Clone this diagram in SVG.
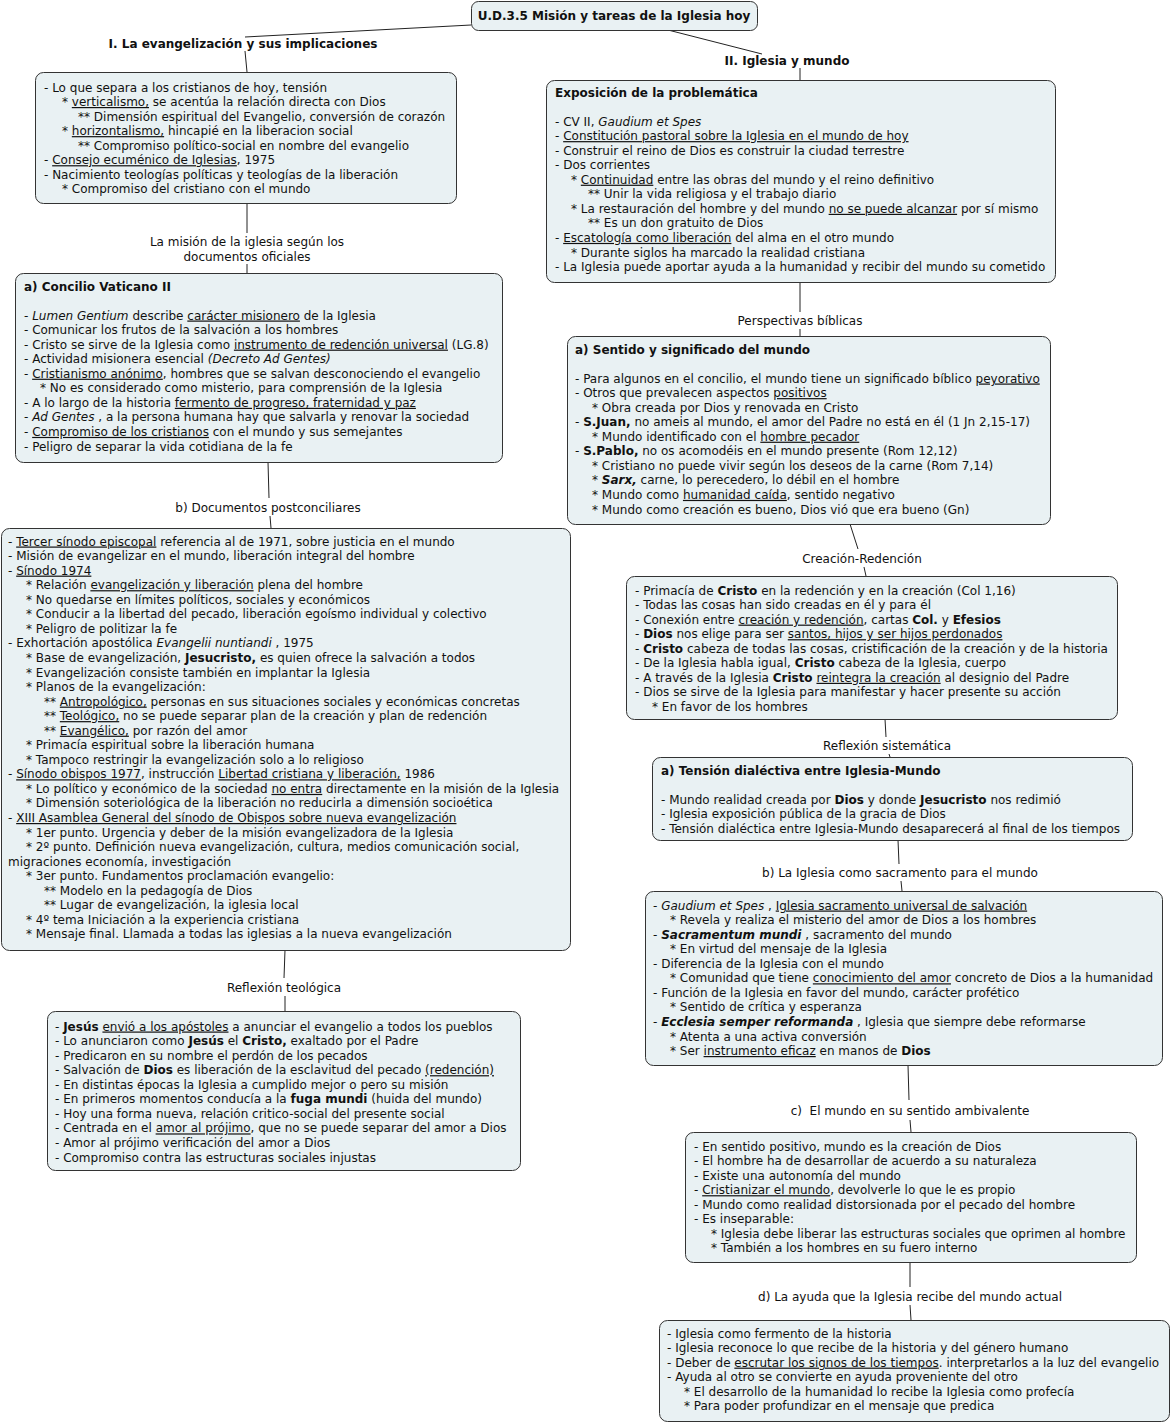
<svg xmlns="http://www.w3.org/2000/svg" width="1171" height="1423" viewBox="0 0 1171 1423">
<style>
text{font-family:"DejaVu Sans",Verdana,sans-serif;font-size:12px;fill:#111}
.b{font-weight:bold}
.i{font-style:italic}
.u{text-decoration:underline}
.c{text-anchor:middle}
.box{fill:#e9f1f3;stroke:#333;stroke-width:1}
#connectors line,#connectors polyline{stroke:#222;stroke-width:1;fill:none}
</style>
<rect width="1171" height="1423" fill="#fff"/>
<g id="connectors">
<line x1="471" y1="25" x2="245" y2="37"/>
<line x1="245" y1="51" x2="247" y2="72"/>
<line x1="668" y1="30" x2="762" y2="54"/>
<line x1="800" y1="68" x2="800" y2="80"/>
<line x1="247" y1="203" x2="247" y2="233"/>
<line x1="247" y1="264" x2="247" y2="273"/>
<line x1="268" y1="462" x2="269" y2="498"/>
<line x1="270" y1="516" x2="271" y2="528"/>
<line x1="285" y1="950" x2="284" y2="978"/>
<line x1="285" y1="996" x2="285" y2="1011"/>
<line x1="800" y1="282" x2="800" y2="312"/>
<line x1="800" y1="329" x2="800" y2="336"/>
<line x1="850" y1="524" x2="858" y2="549"/>
<line x1="864" y1="567" x2="866" y2="576"/>
<line x1="885" y1="719" x2="886" y2="737"/>
<line x1="889" y1="754" x2="890" y2="757"/>
<line x1="898" y1="840" x2="899" y2="864"/>
<line x1="901" y1="881" x2="902" y2="891"/>
<line x1="908" y1="1065" x2="909" y2="1100"/>
<line x1="910" y1="1120" x2="911" y2="1132"/>
<line x1="910" y1="1262" x2="910" y2="1287"/>
<line x1="910" y1="1305" x2="911" y2="1320"/>
</g>
<g id="labels">
<text class="b c" x="243" y="47.5">I. La evangelización y sus implicaciones</text>
<text class="b c" x="787" y="64.5">II. Iglesia y mundo</text>
<text class="c" x="247" y="245.5">La misión de la iglesia según los</text>
<text class="c" x="247" y="260.5">documentos oficiales</text>
<text class="c" x="268" y="511.5">b) Documentos postconciliares</text>
<text class="c" x="284" y="991.5">Reflexión teológica</text>
<text class="c" x="800" y="324.5">Perspectivas bíblicas</text>
<text class="c" x="862" y="562.5">Creación-Redención</text>
<text class="c" x="887" y="749.5">Reflexión sistemática</text>
<text class="c" x="900" y="876.5">b) La Iglesia como sacramento para el mundo</text>
<text class="c" x="910" y="1114.5" xml:space="preserve">c)  El mundo en su sentido ambivalente</text>
<text class="c" x="910" y="1300.5">d) La ayuda que la Iglesia recibe del mundo actual</text>
</g>
<g id="title">
<rect class="box" x="471.5" y="1.5" width="286" height="29" rx="7"/>
<text class="b c" x="614" y="20">U.D.3.5 Misión y tareas de la Iglesia hoy</text>
</g>
<g id="box1">
<rect class="box" x="35.5" y="72.5" width="421" height="131" rx="8"/>
<text x="44" y="91.5">- Lo que separa a los cristianos de hoy, tensión</text>
<text x="62" y="106">* <tspan class="u">verticalismo,</tspan> se acentúa la relación directa con Dios</text>
<text x="78" y="120.5">** Dimensión espiritual del Evangelio, conversión de corazón</text>
<text x="62" y="135.1">* <tspan class="u">horizontalismo,</tspan> hincapié en la liberacion social</text>
<text x="78" y="149.7">** Compromiso político-social en nombre del evangelio</text>
<text x="44" y="164.2">- <tspan class="u">Consejo ecuménico de Iglesias</tspan>, 1975</text>
<text x="44" y="178.8">- Nacimiento teologías políticas y teologías de la liberación</text>
<text x="62" y="193.3">* Compromiso del cristiano con el mundo</text>
</g>
<g id="box2">
<rect class="box" x="15.5" y="273.5" width="487" height="189" rx="8"/>
<text class="b" x="24" y="290.5">a) Concilio Vaticano II</text>
<text x="24" y="319.5">- <tspan class="i">Lumen Gentium</tspan>  describe <tspan class="u">carácter misionero</tspan> de la Iglesia</text>
<text x="24" y="334">- Comunicar los frutos de la salvación a los hombres</text>
<text x="24" y="348.6">- Cristo se sirve de la Iglesia como <tspan class="u">instrumento de redención universal</tspan> (LG.8)</text>
<text x="24" y="363.1">- Actividad misionera esencial <tspan class="i">(Decreto Ad Gentes)</tspan></text>
<text x="24" y="377.7">- <tspan class="u">Cristianismo anónimo</tspan>, hombres que se salvan desconociendo el evangelio</text>
<text x="40" y="392.2">* No es considerado como misterio, para comprensión de la Iglesia</text>
<text x="24" y="406.8">- A lo largo de la historia <tspan class="u">fermento de progreso, fraternidad y paz</tspan></text>
<text x="24" y="421.3">- <tspan class="i">Ad Gentes</tspan> , a la persona humana hay que salvarla y renovar la sociedad</text>
<text x="24" y="435.9">- <tspan class="u">Compromiso de los cristianos</tspan> con el mundo y sus semejantes</text>
<text x="24" y="450.5">- Peligro de separar la vida cotidiana de la fe</text>
</g>
<g id="box3">
<rect class="box" x="1.5" y="528.5" width="569" height="422" rx="8"/>
<text x="8" y="545.5">- <tspan class="u">Tercer sínodo episcopal</tspan> referencia al de 1971, sobre justicia en el mundo</text>
<text x="8" y="560.1">- Misión de evangelizar en el mundo, liberación integral del hombre</text>
<text x="8" y="574.6">- <tspan class="u">Sínodo 1974</tspan></text>
<text x="26" y="589.2">* Relación <tspan class="u">evangelización y liberación</tspan> plena del hombre</text>
<text x="26" y="603.7">* No quedarse en límites políticos, sociales y económicos</text>
<text x="26" y="618.3">* Conducir a la libertad del pecado, liberación egoísmo individual y colectivo</text>
<text x="26" y="632.8">* Peligro de politizar la fe</text>
<text x="8" y="647.4">- Exhortación apostólica <tspan class="i">Evangelii nuntiandi</tspan> , 1975</text>
<text x="26" y="661.9">* Base de evangelización, <tspan class="b">Jesucristo,</tspan> es quien ofrece la salvación a todos</text>
<text x="26" y="676.5">* Evangelización consiste también en implantar la Iglesia</text>
<text x="26" y="691">* Planos de la evangelización:</text>
<text x="44" y="705.6">** <tspan class="u">Antropológico,</tspan> personas en sus situaciones sociales y económicas concretas</text>
<text x="44" y="720.1">** <tspan class="u">Teológico,</tspan>  no se puede separar plan de la creación y plan de redención</text>
<text x="44" y="734.7">** <tspan class="u">Evangélico,</tspan> por razón del amor</text>
<text x="26" y="749.2">* Primacía espiritual sobre la liberación humana</text>
<text x="26" y="763.8">* Tampoco restringir la evangelización solo a lo religioso</text>
<text x="8" y="778.3">- <tspan class="u">Sínodo obispos 1977</tspan>, instrucción <tspan class="u">Libertad cristiana y liberación,</tspan> 1986</text>
<text x="26" y="792.9">* Lo político y económico de la sociedad <tspan class="u">no entra</tspan> directamente en la misión de la Iglesia</text>
<text x="26" y="807.4">* Dimensión soteriológica de la liberación no reducirla a dimensión socioética</text>
<text x="8" y="822">- <tspan class="u">XIII Asamblea General del sínodo de Obispos sobre nueva evangelización</tspan></text>
<text x="26" y="836.5">* 1er punto. Urgencia y deber de la misión evangelizadora de la Iglesia</text>
<text x="26" y="851.1">* 2º punto. Definición nueva evangelización, cultura, medios comunicación social,</text>
<text x="8" y="865.6">migraciones economía, investigación</text>
<text x="26" y="880.2">* 3er punto. Fundamentos proclamación evangelio:</text>
<text x="44" y="894.7">** Modelo en la pedagogía de Dios</text>
<text x="44" y="909.3">** Lugar de evangelización, la iglesia local</text>
<text x="26" y="923.8">* 4º tema Iniciación a la experiencia cristiana</text>
<text x="26" y="938.4">* Mensaje final. Llamada a todas las iglesias a la nueva evangelización</text>
</g>
<g id="box4">
<rect class="box" x="47.5" y="1011.5" width="473" height="159" rx="8"/>
<text x="55" y="1030.5">- <tspan class="b">Jesús</tspan> <tspan class="u">envió a los apóstoles</tspan> a anunciar el evangelio a todos los pueblos</text>
<text x="55" y="1045.1">- Lo anunciaron como <tspan class="b">Jesús</tspan> el <tspan class="b">Cristo,</tspan> exaltado por el Padre</text>
<text x="55" y="1059.6">- Predicaron en su nombre el perdón de los pecados</text>
<text x="55" y="1074.2">- Salvación de <tspan class="b">Dios</tspan> es liberación de la esclavitud del pecado <tspan class="u">(redención)</tspan></text>
<text x="55" y="1088.7">- En distintas épocas la Iglesia a cumplido mejor o pero su misión</text>
<text x="55" y="1103.3">- En primeros momentos conducía a la <tspan class="b">fuga mundi</tspan> (huida del mundo)</text>
<text x="55" y="1117.8">- Hoy una forma nueva, relación critico-social del presente social</text>
<text x="55" y="1132.4">- Centrada en el <tspan class="u">amor al prójimo</tspan>, que no se puede separar del amor a Dios</text>
<text x="55" y="1146.9">- Amor al prójimo verificación del amor a Dios</text>
<text x="55" y="1161.5">- Compromiso contra las estructuras sociales injustas</text>
</g>
<g id="r1">
<rect class="box" x="546.5" y="80.5" width="509" height="202" rx="8"/>
<text class="b" x="555" y="96.5">Exposición de la problemática</text>
<text x="555" y="125.5">- CV II, <tspan class="i">Gaudium et Spes</tspan></text>
<text x="555" y="140.1">- <tspan class="u">Constitución pastoral sobre la Iglesia en el mundo de hoy</tspan></text>
<text x="555" y="154.6">- Construir el reino de Dios es construir la ciudad terrestre</text>
<text x="555" y="169.2">- Dos corrientes</text>
<text x="571" y="183.7">* <tspan class="u">Continuidad</tspan> entre las obras del mundo y el reino definitivo</text>
<text x="588" y="198.3">** Unir la vida religiosa y el trabajo diario</text>
<text x="571" y="212.8">* La restauración del hombre y del mundo <tspan class="u">no se puede alcanzar</tspan> por sí mismo</text>
<text x="588" y="227.4">** Es un don gratuito de Dios</text>
<text x="555" y="241.9">- <tspan class="u">Escatología como liberación</tspan> del alma en el otro mundo</text>
<text x="571" y="256.5">* Durante siglos ha marcado la realidad cristiana</text>
<text x="555" y="271">- La Iglesia puede aportar ayuda a la humanidad y recibir del mundo su cometido</text>
</g>
<g id="r2">
<rect class="box" x="567.5" y="336.5" width="483" height="188" rx="8"/>
<text class="b" x="575" y="353.5">a) Sentido y significado del mundo</text>
<text x="575" y="382.5">- Para algunos en el concilio, el mundo tiene un significado bíblico <tspan class="u">peyorativo</tspan></text>
<text x="575" y="397.1">- Otros que prevalecen aspectos <tspan class="u">positivos</tspan></text>
<text x="592" y="411.6">* Obra creada por Dios y renovada en Cristo</text>
<text x="575" y="426.2">- <tspan class="b">S.Juan,</tspan> no ameis al mundo, el amor del Padre no está en él (1 Jn 2,15-17)</text>
<text x="592" y="440.7">* Mundo identificado con el <tspan class="u">hombre pecador</tspan></text>
<text x="575" y="455.3">- <tspan class="b">S.Pablo,</tspan> no os acomodéis en el mundo presente (Rom 12,12)</text>
<text x="592" y="469.8">* Cristiano no puede vivir según los deseos de la carne (Rom 7,14)</text>
<text x="592" y="484.4">* <tspan class="b i">Sarx,</tspan>  carne, lo perecedero, lo débil en el hombre</text>
<text x="592" y="498.9">* Mundo como <tspan class="u">humanidad caída</tspan>, sentido negativo</text>
<text x="592" y="513.5">* Mundo como creación es bueno, Dios vió que era bueno (Gn)</text>
</g>
<g id="r3">
<rect class="box" x="626.5" y="576.5" width="491" height="143" rx="8"/>
<text x="635" y="594.5">- Primacía de <tspan class="b">Cristo</tspan> en la redención y en la creación (Col 1,16)</text>
<text x="635" y="609.1">- Todas las cosas han sido creadas en él y para él</text>
<text x="635" y="623.6">- Conexión entre <tspan class="u">creación y redención</tspan>, cartas <tspan class="b">Col.</tspan> y <tspan class="b">Efesios</tspan></text>
<text x="635" y="638.2">- <tspan class="b">Dios</tspan> nos elige para ser <tspan class="u">santos, hijos y ser hijos perdonados</tspan></text>
<text x="635" y="652.7">- <tspan class="b">Cristo</tspan> cabeza de todas las cosas, cristificación de la creación y de la historia</text>
<text x="635" y="667.3">- De la Iglesia habla igual, <tspan class="b">Cristo</tspan> cabeza de la Iglesia, cuerpo</text>
<text x="635" y="681.8">- A través de la Iglesia <tspan class="b">Cristo</tspan> <tspan class="u">reintegra la creación</tspan> al designio del Padre</text>
<text x="635" y="696.4">- Dios se sirve de la Iglesia para manifestar y hacer presente su acción</text>
<text x="652" y="710.9">* En favor de los hombres</text>
</g>
<g id="r4">
<rect class="box" x="652.5" y="757.5" width="480" height="83" rx="8"/>
<text class="b" x="661" y="774.5">a) Tensión dialéctiva entre Iglesia-Mundo</text>
<text x="661" y="803.5">- Mundo realidad creada por <tspan class="b">Dios</tspan> y donde <tspan class="b">Jesucristo</tspan> nos redimió</text>
<text x="661" y="818.1">- Iglesia exposición pública de la gracia de Dios</text>
<text x="661" y="832.6">- Tensión dialéctica entre Iglesia-Mundo desaparecerá al final de los tiempos</text>
</g>
<g id="r5">
<rect class="box" x="645.5" y="891.5" width="517" height="174" rx="8"/>
<text x="653" y="909.5">- <tspan class="i">Gaudium et Spes</tspan> , <tspan class="u">Iglesia sacramento universal de salvación</tspan></text>
<text x="670" y="924.1">* Revela y realiza el misterio del amor de Dios a los hombres</text>
<text x="653" y="938.6">- <tspan class="b i">Sacramentum mundi</tspan> , sacramento del mundo</text>
<text x="670" y="953.2">* En virtud del mensaje de la Iglesia</text>
<text x="653" y="967.7">- Diferencia de la Iglesia con el mundo</text>
<text x="670" y="982.3">* Comunidad que tiene <tspan class="u">conocimiento del amor</tspan> concreto de Dios a la humanidad</text>
<text x="653" y="996.8">- Función de la Iglesia en favor del mundo, carácter profético</text>
<text x="670" y="1011.4">* Sentido de crítica y esperanza</text>
<text x="653" y="1025.9">- <tspan class="b i">Ecclesia semper reformanda</tspan> , Iglesia que siempre debe reformarse</text>
<text x="670" y="1040.5">* Atenta a una activa conversión</text>
<text x="670" y="1055">* Ser <tspan class="u">instrumento eficaz</tspan> en manos de <tspan class="b">Dios</tspan></text>
</g>
<g id="r6">
<rect class="box" x="685.5" y="1132.5" width="451" height="130" rx="8"/>
<text x="694" y="1150.5">- En sentido positivo, mundo es la creación de Dios</text>
<text x="694" y="1165.1">- El hombre ha de desarrollar de acuerdo a su naturaleza</text>
<text x="694" y="1179.6">- Existe una autonomía del mundo</text>
<text x="694" y="1194.2">- <tspan class="u">Cristianizar el mundo</tspan>, devolverle lo que le es propio</text>
<text x="694" y="1208.7">- Mundo como realidad distorsionada por el pecado del hombre</text>
<text x="694" y="1223.3">- Es inseparable:</text>
<text x="711" y="1237.8">* Iglesia debe liberar las estructuras sociales que oprimen al hombre</text>
<text x="711" y="1252.4">* También a los hombres en su fuero interno</text>
</g>
<g id="r7">
<rect class="box" x="659.5" y="1320.5" width="510" height="101" rx="8"/>
<text x="667" y="1337.5">- Iglesia como fermento de la historia</text>
<text x="667" y="1352.1">- Iglesia reconoce lo que recibe de la historia y del género humano</text>
<text x="667" y="1366.6">- Deber de <tspan class="u">escrutar los signos de los tiempos</tspan>. interpretarlos a la luz del evangelio</text>
<text x="667" y="1381.2">- Ayuda al otro se convierte en ayuda proveniente del otro</text>
<text x="684" y="1395.7">* El desarrollo de la humanidad lo recibe la Iglesia como profecía</text>
<text x="684" y="1410.3">* Para poder profundizar en el mensaje que predica</text>
</g>
</svg>
